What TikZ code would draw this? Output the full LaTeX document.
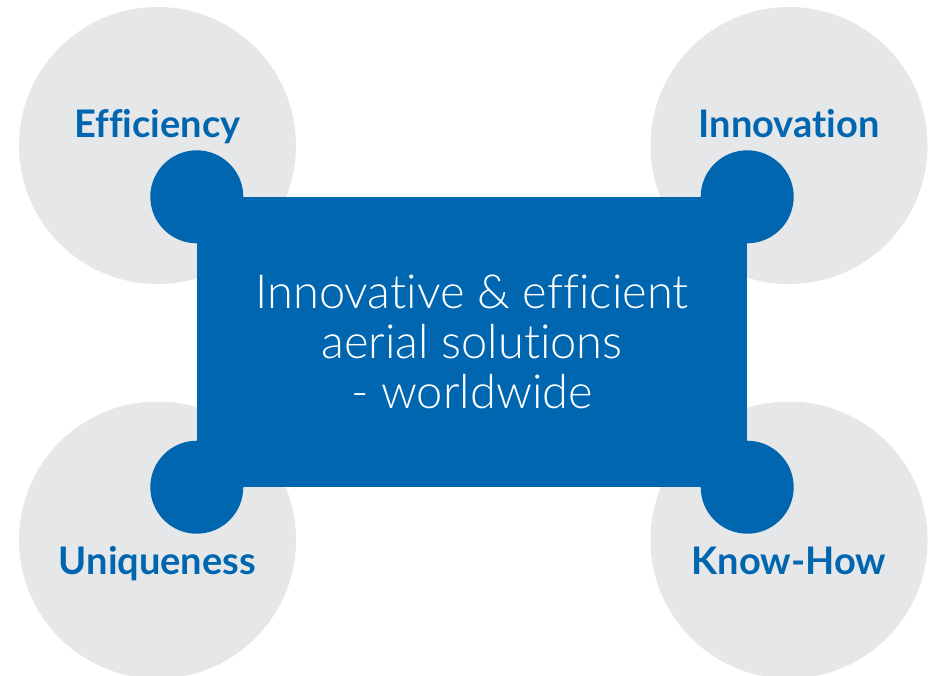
\documentclass[tikz,border=0pt]{standalone}
\usepackage{fontspec}
\setmainfont{Lato}[Ligatures=NoCommon]
\newfontfamily\thinfont{Lato Light}[Ligatures=NoCommon]
\definecolor{brandblue}{HTML}{0066B0}
\definecolor{softgray}{HTML}{E6E7E9}

\begin{document}
\begin{tikzpicture}[x=1pt, y=-1pt,
    bubble/.style={circle, fill=softgray, minimum size=277pt, inner sep=0pt},
    keyword/.style={anchor=base, text=brandblue, font=\bfseries\fontsize{38}{42}\selectfont},
    slogan/.style={fill=brandblue, text=white, minimum width=550pt, minimum height=290pt,
        inner sep=0pt, align=center, font=\thinfont\fontsize{47}{50}\selectfont}
]
    \useasboundingbox (0,0) rectangle (933,675);

    % grey bubbles
    \node[bubble] (effbub) at (157.5,145.5) {};
    \node[bubble] (innbub) at (789,145.5) {};
    \node[bubble] (uniqbub) at (157.5,540) {};
    \node[bubble] (knowbub) at (789,540) {};

    % centre box
    \node[slogan] (box) at (472,342) {Innovative \& efficient\\aerial solutions\\- worldwide};

    % knobs on the corners
    \fill[brandblue] (box.north west) circle [radius=46.5];
    \fill[brandblue] (box.north east) circle [radius=46.5];
    \fill[brandblue] (box.south west) circle [radius=46.5];
    \fill[brandblue] (box.south east) circle [radius=46.5];

    % keywords
    \node[keyword] (eff) at ([yshift=8.5pt]effbub.center) {Efficiency};
    \node[keyword] (inn) at ([yshift=8.5pt]innbub.center) {Innovation};
    \node[keyword] (uniq) at ([yshift=-34pt]uniqbub.center) {Uniqueness};
    \node[keyword] (know) at ([yshift=-34pt]knowbub.center) {Know-How};
\end{tikzpicture}
\end{document}
